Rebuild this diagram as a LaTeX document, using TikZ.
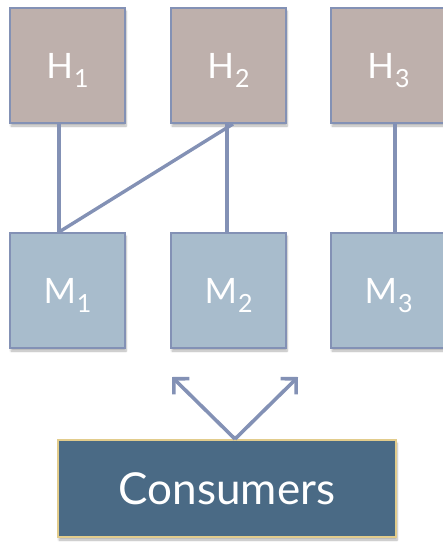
\documentclass[tikz,border=0pt]{standalone}
\usepackage{fontspec}
\setmainfont{Lato}
\usetikzlibrary{shadows.blur,arrows.meta}
\definecolor{hfill}{HTML}{BEB0AC}
\definecolor{mfill}{HTML}{A8BCCC}
\definecolor{edge}{HTML}{8391B5}
\definecolor{cfill}{HTML}{4A6A85}
\definecolor{cedge}{HTML}{E2CC8C}
\newcommand{\lbl}[2]{#1\hspace{1pt}\raisebox{-9pt}[0pt][0pt]{\fontsize{25}{25}\selectfont #2}}
\tikzset{
  box/.style={draw=edge, line width=2pt, minimum width=115pt, minimum height=115pt, inner sep=0pt,
     text=white, font=\fontsize{35}{35}\selectfont, anchor=north west,
     blur shadow={shadow xshift=1pt, shadow yshift=-3pt, shadow blur steps=6, shadow opacity=30}},
  hbox/.style={box, fill=hfill},
  mbox/.style={box, fill=mfill},
  link/.style={draw=edge, line width=3.4pt},
  arr/.style={draw=edge, line width=3.6pt, -{Straight Barb[length=11pt,width=22pt]}}
}
\begin{document}
\begin{tikzpicture}[x=1pt,y=-1pt]
\useasboundingbox (0,0) rectangle (442,543);
\node[hbox] (h1) at (9,7) {\lbl{H}{1}};
\node[hbox] (h2) at (170,7) {\lbl{H}{2}};
\node[hbox] (h3) at (330,7) {\lbl{H}{3}};
\node[mbox] (m1) at (9,232) {\lbl{M}{1}};
\node[mbox] (m2) at (170,232) {\lbl{M}{2}};
\node[mbox] (m3) at (330,232) {\lbl{M}{3}};
\node[draw=cedge, line width=2pt, fill=cfill, text=white, minimum width=338pt, minimum height=97pt,
  anchor=north west, font=\fontsize{44}{44}\selectfont,
  blur shadow={shadow xshift=1pt, shadow yshift=-3pt, shadow blur steps=6, shadow opacity=30}] (c) at (57,439) {Consumers};
\coordinate (a1) at (172,377);
\coordinate (a2) at (298,377);
\draw[link] (h1.south -| 59,0) -- (m1.north -| 59,0);
\draw[link] (h2.south -| 227,0) -- (m2.north -| 227,0);
\draw[link] (h3.south -| 395,0) -- (m3.north -| 395,0);
\draw[link] (h2.south -| 233,0) -- (m1.north -| 59,0);
\draw[arr] (c.north -| 235,0) -- (a1);
\draw[arr] (c.north -| 235,0) -- (a2);
\end{tikzpicture}
\end{document}
